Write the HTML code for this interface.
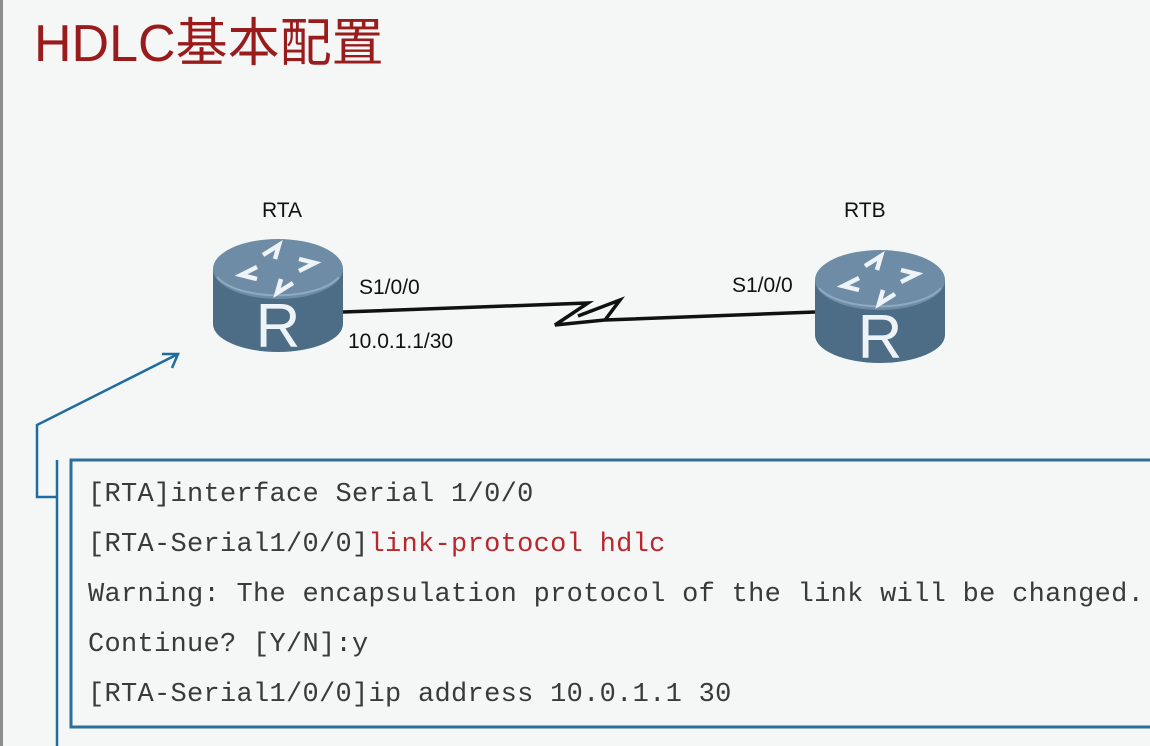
<!DOCTYPE html>
<html><head><meta charset="utf-8"><style>
html,body{margin:0;padding:0;}
body{width:1150px;height:746px;background:#f4f7f6;position:relative;overflow:hidden;font-family:"Liberation Sans",Arial,sans-serif;}
.edge{position:absolute;left:0;top:0;width:3px;height:746px;background:#8a8f8c;}
.title{position:absolute;left:34px;top:12px;font-size:52px;color:#9a1b1b;font-family:"Liberation Sans","Noto Sans CJK SC",sans-serif;line-height:64px;}
.lbl{position:absolute;font-size:21px;color:#111;}
.code{position:absolute;left:88px;font-family:"Liberation Mono","Courier New",monospace;font-size:27px;color:#3a3a3a;white-space:pre;letter-spacing:0.3px;}
.red{color:#b8282e;}
</style></head><body>
<div class="edge"></div>
<div class="title">HDLC基本配置</div>
<svg width="1150" height="746" style="position:absolute;left:0;top:0">
<defs>
<g id="rt">
<path d="M0,32 L0,87 A65,28 0 0 0 130,87 L130,32 Z" fill="#4d6d87"/>
<ellipse cx="65" cy="32" rx="65" ry="30" fill="#6e8ca5"/>
<path d="M4,40 A65,28 0 0 0 126,40" fill="none" stroke="#8eabc2" stroke-width="2"/>
<g fill="none" stroke="#eef3f7" stroke-width="4.5">
<path d="M50,18 L66,8 L62,22"/><path d="M80,46 L64,56 L68,42"/>
<path d="M44,30 L28,38 L44,42"/><path d="M86,34 L102,26 L86,22"/>
</g>
<text x="65" y="110" font-size="62" fill="#eef3f7" text-anchor="middle" font-family="Liberation Sans">R</text>
</g>
</defs>
<use href="#rt" x="213" y="237"/>
<use href="#rt" x="815" y="248"/>
<path d="M343,312 L588,303 L555,325 L605,320 L620,300 L578,316 M605,320 L815,312" fill="none" stroke="#111" stroke-width="3.5" stroke-linejoin="miter"/>
<polyline points="57,497 37,497 37,425 178,354" fill="none" stroke="#1f6d9e" stroke-width="2.5"/>
<polyline points="162,354 178,354 172,368" fill="none" stroke="#1f6d9e" stroke-width="2.5"/>
<line x1="57" y1="460" x2="57" y2="746" stroke="#1f6d9e" stroke-width="2.5"/>
<rect x="71" y="460" width="1100" height="267" fill="none" stroke="#2e6f9a" stroke-width="3"/>
</svg>
<div class="lbl" style="left:262px;top:199px">RTA</div>
<div class="lbl" style="left:844px;top:199px">RTB</div>
<div class="lbl" style="left:359px;top:276px">S1/0/0</div>
<div class="lbl" style="left:732px;top:274px">S1/0/0</div>
<div class="lbl" style="left:348px;top:330px">10.0.1.1/30</div>
<div class="code" style="top:480px">[RTA]interface Serial 1/0/0</div>
<div class="code" style="top:530px">[RTA-Serial1/0/0]<span class="red">link-protocol hdlc</span></div>
<div class="code" style="top:580px">Warning: The encapsulation protocol of the link will be changed.</div>
<div class="code" style="top:630px">Continue? [Y/N]:y</div>
<div class="code" style="top:680px">[RTA-Serial1/0/0]ip address 10.0.1.1 30</div>
</body></html>
